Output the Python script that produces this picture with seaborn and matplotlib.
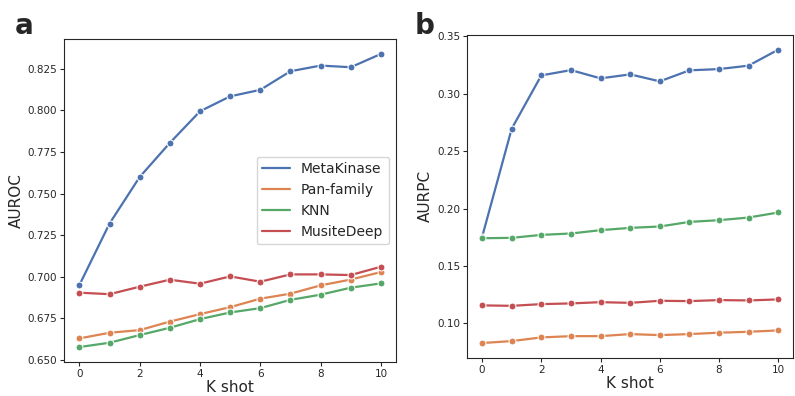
import numpy as np
import pandas as pd
import matplotlib.pyplot as plt
import seaborn as sns
from matplotlib.lines import Line2D

# K-shot evaluation: AUROC (a) and AUPRC (b) per method
k_shot = list(range(11))
methods = ["MetaKinase", "Pan-family", "KNN", "MusiteDeep"]

auroc_metakinase = [0.695, 0.732, 0.760, 0.7805, 0.7995, 0.8085, 0.8124, 0.8236, 0.827, 0.826, 0.834]
auroc_panfamily = [0.6629, 0.6663, 0.6679, 0.673, 0.6775, 0.6817, 0.6868, 0.6898, 0.6948, 0.6983, 0.7028]
auroc_knn = [0.6577, 0.6603, 0.6649, 0.6693, 0.6745, 0.6785, 0.6811, 0.6861, 0.6892, 0.6934, 0.696]
auroc_musite = [0.6904, 0.6895, 0.694, 0.6982, 0.6958, 0.7002, 0.697, 0.7014, 0.7014, 0.701, 0.706]

auprc_metakinase = [0.1753, 0.2696, 0.316, 0.3206, 0.3134, 0.3169, 0.3108, 0.3204, 0.3215, 0.3245, 0.3384]
auprc_panfamily = [0.0829, 0.0846, 0.0878, 0.0889, 0.0889, 0.0907, 0.0898, 0.0907, 0.0919, 0.0927, 0.0939]
auprc_knn = [0.1742, 0.1745, 0.1771, 0.1783, 0.1812, 0.1832, 0.1844, 0.1884, 0.1899, 0.1922, 0.1966]
auprc_musite = [0.1157, 0.1153, 0.1168, 0.1174, 0.1185, 0.1179, 0.1197, 0.1194, 0.1203, 0.12, 0.1209]


def to_long(series):
    frames = []
    for name, vals in zip(methods, series):
        frames.append(pd.DataFrame({"K shot": k_shot, "value": vals, "Method": name}))
    return pd.concat(frames, ignore_index=True)


df_roc = to_long([auroc_metakinase, auroc_panfamily, auroc_knn, auroc_musite])
df_prc = to_long([auprc_metakinase, auprc_panfamily, auprc_knn, auprc_musite])

sns.set_style("ticks")
palette = sns.color_palette("deep", 4)

fig = plt.figure(figsize=(7.95, 3.96), dpi=100)
ax1 = fig.add_axes([0.0809, 0.0866, 0.4172, 0.8142])
ax2 = fig.add_axes([0.5878, 0.0967, 0.4097, 0.8149])

sns.lineplot(data=df_roc, x="K shot", y="value", hue="Method", hue_order=methods,
             palette=palette, marker="o", markersize=5, linewidth=1.6, ax=ax1, legend=False)
sns.lineplot(data=df_prc, x="K shot", y="value", hue="Method", hue_order=methods,
             palette=palette, marker="o", markersize=5, linewidth=1.6, ax=ax2, legend=False)

ax1.set_ylabel("AUROC", fontsize=11, labelpad=3)
ax2.set_ylabel("AURPC", fontsize=11, labelpad=3)
for ax in (ax1, ax2):
    ax.set_xlabel("K shot", fontsize=11, labelpad=1)
    ax.set_xticks([0, 2, 4, 6, 8, 10])
    ax.tick_params(labelsize=7.5, length=3, pad=2)

ax1.set_yticks(np.arange(0.650, 0.826, 0.025))
ax1.yaxis.set_major_formatter(plt.FormatStrFormatter("%.3f"))
ax2.set_yticks([0.10, 0.15, 0.20, 0.25, 0.30, 0.35])
ax2.yaxis.set_major_formatter(plt.FormatStrFormatter("%.2f"))

# legend shows plain lines only
handles = [Line2D([], [], color=c, linewidth=1.6) for c in palette]
ax1.legend(handles, methods, loc="center right", fontsize=10)

fig.text(0.018, 0.97, "a", fontsize=20, fontweight="bold", va="top")
fig.text(0.522, 0.97, "b", fontsize=20, fontweight="bold", va="top")

fig.savefig("out.png", dpi=100)
